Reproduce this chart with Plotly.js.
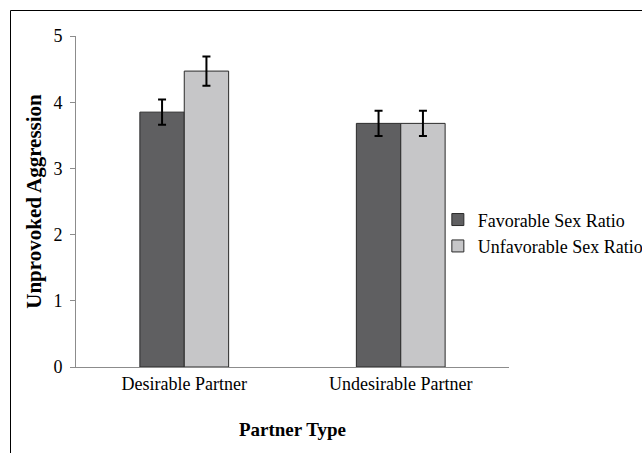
<!DOCTYPE html>
<html>
<head>
<meta charset="utf-8">
<script src="https://cdn.plot.ly/plotly-3.0.1.min.js"></script>
<style>
html,body{margin:0;padding:0;background:#fff;}
#chart{width:642px;height:453px;}
</style>
</head>
<body>
<div id="chart"></div>
<script>
const categories = ["Desirable Partner", "Undesirable Partner"];
const favorableValues = [3.85, 3.68];
const favorableErrors = [0.19, 0.19];
const unfavorableValues = [4.47, 3.68];
const unfavorableErrors = [0.22, 0.19];
const seriesNames = ["Favorable Sex Ratio", "Unfavorable Sex Ratio"];
const yTicks = [0, 1, 2, 3, 4, 5];

const font = "'Liberation Serif', 'Times New Roman', serif";

const traces = [
  {
    type: "bar", name: seriesNames[0], x: categories, y: favorableValues,
    marker: {color: "#5f5f61", line: {color: "#2a2a2a", width: 1}},
    error_y: {type: "data", array: favorableErrors, visible: true, color: "#000", thickness: 2, width: 4}
  },
  {
    type: "bar", name: seriesNames[1], x: categories, y: unfavorableValues,
    marker: {color: "#c6c6c8", line: {color: "#2a2a2a", width: 1}},
    error_y: {type: "data", array: unfavorableErrors, visible: true, color: "#000", thickness: 2, width: 4}
  }
];

const L = 76, R = 133, T = 36, B = 86;
const pw = 642 - L - R, ph = 453 - T - B;

const layout = {
  width: 642, height: 453,
  margin: {l: L, r: R, t: T, b: B, pad: 0, autoexpand: false},
  paper_bgcolor: "#fff", plot_bgcolor: "#fff",
  font: {family: font, size: 18, color: "#000"},
  barmode: "group", bargap: 0.59, bargroupgap: 0,
  showlegend: true,
  legend: {
    xref: "container", yref: "container",
    x: 0.682, xanchor: "left", y: 0.486, yanchor: "middle",
    font: {family: font, size: 18, color: "#000"},
    tracegroupgap: 0, itemwidth: 30, bgcolor: "rgba(0,0,0,0)"
  },
  xaxis: {
    type: "category",
    showline: true, linecolor: "#8c8c8c", linewidth: 1,
    ticks: "", showgrid: false, zeroline: false,
    tickfont: {family: font, size: 18, color: "#000"},
    title: {text: "<b>Partner Type</b>", font: {family: font, size: 19, color: "#000"}, standoff: 30}
  },
  yaxis: {
    range: [0, 5], tickvals: yTicks, ticktext: yTicks.map(String),
    showline: true, linecolor: "#8c8c8c", linewidth: 1,
    ticks: "outside", ticklen: 5, tickcolor: "#8c8c8c", ticklabelstandoff: 4,
    showgrid: false, zeroline: false,
    tickfont: {family: font, size: 18, color: "#000"},
    title: {text: "<b>Unprovoked Aggression</b>", font: {family: font, size: 21, color: "#000"}, standoff: 6}
  },
  shapes: [{
    type: "rect", xref: "paper", yref: "paper",
    x0: (10.5 - L) / pw, x1: (700 - L) / pw,
    y0: (T + ph - 520) / ph, y1: (T + ph - 10.5) / ph,
    line: {color: "#000", width: 1}, fillcolor: "rgba(0,0,0,0)", layer: "below"
  }]
};

Plotly.newPlot("chart", traces, layout, {displayModeBar: false, staticPlot: true});
</script>
</body>
</html>
